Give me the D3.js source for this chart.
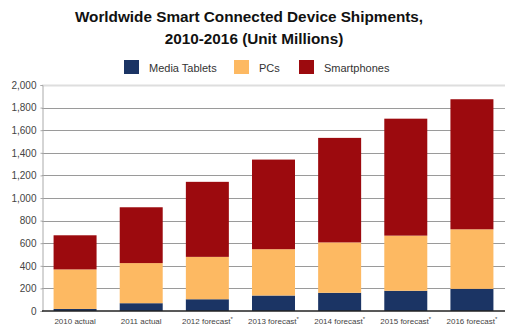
<!DOCTYPE html>
<html>
<head>
<meta charset="utf-8">
<script src="https://cdn.jsdelivr.net/npm/d3@7/dist/d3.min.js"></script>
<style>
  html, body { margin: 0; padding: 0; background: #fff; }
  svg { display: block; font-family: "Liberation Sans", Arial, sans-serif; }
</style>
</head>
<body>
<svg id="chart" width="515" height="333"></svg>
<script>
// Shipments in millions of units, per year
const categories = ["2010 actual", "2011 actual", "2012 forecast", "2013 forecast", "2014 forecast", "2015 forecast", "2016 forecast"];
const forecastFlags = [false, false, true, true, true, true, true];
const mediaTablets = [18, 69, 104, 137, 161, 179, 196];
const pcs = [350, 355, 375, 410, 446, 488, 527];
const smartphones = [302, 494, 664, 793, 925, 1035, 1151];
const seriesNames = ["Media Tablets", "PCs", "Smartphones"];
const seriesColors = ["#1b3464", "#fdb962", "#9c0a0e"];
const yTicks = [0, 200, 400, 600, 800, 1000, 1200, 1400, 1600, 1800, 2000];

const svg = d3.select("#chart");
const margin = { left: 42, right: 10, top: 85, bottom: 22 };
const W = 515, H = 333;
const plotRight = W - margin.right;
const plotBottom = H - margin.bottom;

const rows = categories.map((c, i) => ({
  cat: c, "Media Tablets": mediaTablets[i], "PCs": pcs[i], "Smartphones": smartphones[i]
}));
const stacked = d3.stack().keys(seriesNames)(rows);

const x = d3.scaleBand().domain(categories).range([margin.left, plotRight]).paddingInner(0.35).paddingOuter(0.175);
const y = d3.scaleLinear().domain([0, 2000]).range([plotBottom, margin.top]);
const color = d3.scaleOrdinal().domain(seriesNames).range(seriesColors);

// Title
const title = svg.append("text").attr("text-anchor", "middle")
  .attr("font-weight", "bold").attr("font-size", 15.3).attr("fill", "#111");
title.append("tspan").attr("x", 249).attr("y", 22).text("Worldwide Smart Connected Device Shipments,");
title.append("tspan").attr("x", 254).attr("y", 44).text("2010-2016 (Unit Millions)");

// Legend
const legendX = [124, 234, 299];
const legend = svg.append("g");
seriesNames.forEach((name, i) => {
  legend.append("rect").attr("x", legendX[i]).attr("y", 60).attr("width", 15).attr("height", 14)
    .attr("fill", color(name));
  legend.append("text").attr("x", legendX[i] + 25).attr("y", 71.5)
    .attr("font-size", 11).attr("fill", "#333").text(name);
});

// Gridlines
svg.append("g").selectAll("line").data(yTicks.filter(d => d > 0)).join("line")
  .attr("x1", margin.left).attr("x2", plotRight)
  .attr("y1", d => Math.round(y(d)) + 0.5).attr("y2", d => Math.round(y(d)) + 0.5)
  .attr("stroke", d => d === 2000 ? "#dedede" : "#9a9a9a")
  .attr("stroke-width", d => d === 2000 ? 2 : 1);

// Y axis
const yAxis = svg.append("g").attr("transform", `translate(${margin.left + 0.5},0)`)
  .call(d3.axisLeft(y).tickValues(yTicks).tickSize(2).tickPadding(4).tickFormat(d3.format(",")));
yAxis.select(".domain").attr("stroke", "#aaa");
yAxis.selectAll(".tick line").attr("stroke", "#aaa");
yAxis.selectAll("text").attr("font-size", 10).attr("fill", "#444")
  .attr("font-family", "'Liberation Sans', Arial, sans-serif");

// Bars
svg.append("g").selectAll("g").data(stacked).join("g")
  .attr("fill", d => color(d.key))
  .selectAll("rect").data(d => d).join("rect")
  .attr("x", d => x(d.data.cat))
  .attr("width", x.bandwidth())
  .attr("y", d => y(d[1]))
  .attr("height", d => y(d[0]) - y(d[1]));

// X axis baseline
svg.append("line").attr("x1", margin.left).attr("x2", plotRight)
  .attr("y1", plotBottom).attr("y2", plotBottom)
  .attr("stroke", "#222").attr("stroke-width", 1.6);

// X labels
const xl = svg.append("g").selectAll("text").data(categories).join("text")
  .attr("x", d => x(d) + x.bandwidth() / 2).attr("y", plotBottom + 13)
  .attr("text-anchor", "middle").attr("font-size", 8).attr("fill", "#444");
xl.append("tspan").text(d => d);
xl.filter((d, i) => forecastFlags[i]).append("tspan").attr("font-size", 6).attr("dy", -3).text("*");
</script>
</body>
</html>
